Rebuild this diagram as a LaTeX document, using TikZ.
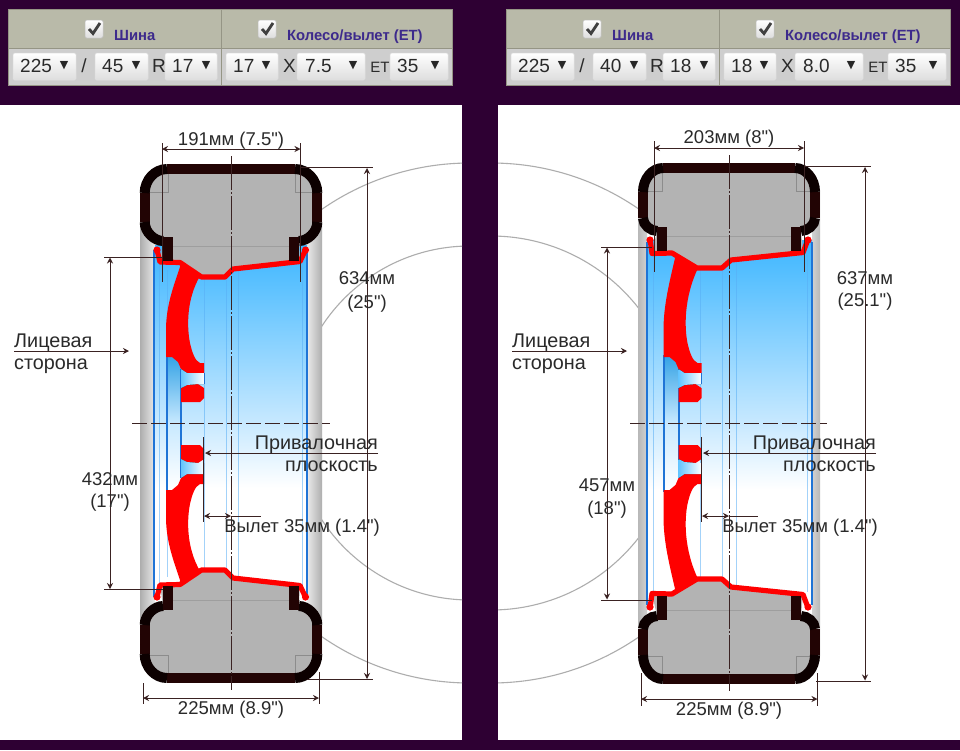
\documentclass[tikz,border=0pt]{standalone}
\usepackage{fontspec}
\newfontfamily\plainf{Liberation Sans}
\newfontfamily\symfont{DejaVu Sans}
\usetikzlibrary{arrows.meta}
\definecolor{bgp}{HTML}{2E0033}
\definecolor{dimc}{HTML}{3A2222}
\definecolor{txt}{HTML}{2A2A2A}
\definecolor{tyreA}{HTML}{0C0000}
\definecolor{tyreB}{HTML}{220404}
\definecolor{tyreG}{HTML}{B3B3B3}
\definecolor{hdr}{HTML}{B9BAA9}
\definecolor{rowc}{HTML}{CECECE}
\definecolor{brd}{HTML}{959585}
\definecolor{purp}{HTML}{3D2A8C}
\definecolor{blueD}{HTML}{1F74D6}
\definecolor{blueL}{HTML}{58AEF5}
\definecolor{wtop}{HTML}{3DB6FF}
\definecolor{wmid}{HTML}{C8E9FF}
\pgfdeclareverticalshading{wheelblue}{100bp}{color(0bp)=(white);color(41bp)=(white);color(50bp)=(wmid);color(75bp)=(wtop);color(100bp)=(wtop)}
\tikzset{
  x=1pt,y=-1pt,
  lbl/.style={font=\plainf\fontsize{18.5}{20}\selectfont,text=txt,inner sep=0pt,anchor=base},
  lblw/.style={font=\plainf\fontsize{19.8}{21}\selectfont,text=txt,inner sep=0pt},
  uit/.style={font=\plainf\fontsize{19}{20}\selectfont,text=txt,inner sep=0pt,anchor=base west},
  uih/.style={font=\plainf\fontsize{14.8}{16}\selectfont\bfseries,text=purp,inner sep=0pt,anchor=base west},
  dimline/.style={draw=dimc,line width=1pt},
  dimarrow/.style={dimline,{Stealth[length=6pt,width=6pt]}-{Stealth[length=6pt,width=6pt]}},
  arrowend/.style={dimline,-{Stealth[length=6pt,width=6pt]}},
  axisv/.style={draw=dimc,line width=1pt,dash pattern=on 34pt off 2pt on 2pt off 2pt},
  axish/.style={draw=dimc,line width=1pt,dash pattern=on 15pt off 4pt},
  arcline/.style={draw=black!32,line width=1.1pt},
  bluemain/.style={draw=blueD,line width=1.2pt},
  bluelight/.style={draw=blueL,opacity=.55,line width=1pt},
  tyrestroke/.style={line width=10pt,line cap=butt},
  corner/.style={draw=black!45,line width=.5pt},
  rimline/.style={draw=red,line width=5.2pt,line join=round,line cap=round},
  btn/.style={draw=black!12,line width=.5pt,rounded corners=1.5pt,top color=white,bottom color=black!13},
}
% quarter of a tyre: x, ytop, bar start, y of lower straight end, bead x, bead y, axis x
\newcommand\tyrequarter[7]{%
  \draw[tyrestroke,draw=tyreB] ({#3},{#2}) -- ({#7},{#2});
  \draw[tyrestroke,draw=tyreB] ({#1},{#2+24}) -- ({#1},{#4});
  \draw[tyrestroke,draw=tyreA] ({#1},{#2+24}) .. controls ({#1},{#2+11}) and ({#1+.45*(#3-#1)},{#2}) .. ({#3},{#2});
  \draw[tyrestroke,draw=tyreA] ({#1},{#4}) .. controls ({#1},{#4+.55*(#6-#4)}) and ({#5-.45*(#5-#1)},{#6}) .. ({#5},{#6});
  \fill[tyreB] ({#5},{#6-4}) rectangle ({#5+10},{#6+20});
}
% half wheel in the left picture
\newcommand\halfL{%
  \fill[tyreG] (167,169) -- (295,169) .. controls (307,169) and (317.3,180) .. (317.3,193) -- (317.3,222)
     .. controls (317.3,232.5) and (307.5,241) .. (299,241) -- (300,261.5) -- (233,269) -- (225,277) -- (201.5,277) -- (180,262.5) -- (160,263) -- (163,241)
     .. controls (154.7,241) and (144.7,232.5) .. (144.7,222) -- (144.7,193) .. controls (144.7,180) and (155,169) .. (167,169) -- cycle;
  \draw[corner] (140,192) -- (168,192) -- (168,165);
  \draw[corner] (322,192) -- (295,192) -- (295,165);
  \draw[draw=black!38,line width=.5pt] (163,246.5) -- (300,246.5);
  \draw[rimline] (157.5,252) -- (160,262) -- (180,262.5) -- (201.5,277) -- (225,277) -- (233,269) -- (300,261.5) -- (304.5,252);
  \fill[red] (157,250) circle (3.6);
  \fill[red] (305.5,250) circle (3.6);
  \tyrequarter{144.7}{169}{167}{222}{163}{241}{231}
  \begin{scope}[shift={(462,0)},xscale=-1]
    \tyrequarter{144.7}{169}{167}{222}{163}{241}{231}
  \end{scope}
}
% half wheel in the right picture
\newcommand\halfR{%
  \fill[tyreG] (663,168) -- (795,168) .. controls (805,168) and (815,180) .. (815,192) -- (815,218)
     .. controls (815,225) and (809,231) .. (801,231) -- (803,252.5) -- (731,260) -- (722,268) -- (697,268) -- (672,253) -- (652,253.5) -- (657,231)
     .. controls (649,231) and (643,225) .. (643,218) -- (643,192) .. controls (643,180) and (653,168) .. (663,168) -- cycle;
  \draw[corner] (638,191) -- (662,191) -- (662,163);
  \draw[corner] (820,191) -- (796,191) -- (796,163);
  \draw[draw=black!38,line width=.5pt] (657,236.5) -- (801,236.5);
  \draw[rimline] (650.5,242) -- (652,253.5) -- (672,253) -- (697,268) -- (722,268) -- (731,260) -- (803,252.5) -- (807,242);
  \fill[red] (650,240) circle (3.6);
  \fill[red] (808,240) circle (3.6);
  \tyrequarter{643}{168}{663}{218}{657}{231}{729}
  \begin{scope}[shift={(1458,0)},xscale=-1]
    \tyrequarter{643}{168}{663}{218}{657}{231}{729}
  \end{scope}
}
% spoke and hub: spoke-root left point, its control points, spoke-root right point (left picture frame)
\newcommand\spoke[4]{%
  \fill[red] #1 .. controls #2 and (166,305) .. (166,330) -- (166,357) -- (172,357) -- (178,362) -- (181,369)
     -- (187,373) -- (204,373) -- (204,363) -- (200,363) .. controls (195,361) and (192,352) .. (190,343) .. controls (187,328) and #3 .. #4 -- cycle;
  \fill[red] (181,388) -- (187,385) -- (198,384) -- (204,388) -- (204,398) -- (200,402) -- (181,402) -- cycle;
  \fill[left color=wtop!80,right color=white] (181,369) -- (187,373) -- (204,373) -- (204,384) -- (198,384) -- (187,385) -- (181,388) -- cycle;
}
% selector bar
\newcommand\uibar[7]{%
\begin{scope}[xshift=#1pt]
  \fill[hdr] (8.5,9) rectangle (452.5,48.5);
  \fill[rowc] (8.5,48.5) rectangle (452.5,85);
  \draw[brd,line width=1pt] (8.5,9) rectangle (452.5,85);
  \draw[brd,line width=1pt] (8.5,48.5) -- (452.5,48.5);
  \draw[brd,line width=1pt] (221.5,9) -- (221.5,85);
  \draw[btn,draw=black!25] (85,20) rectangle (103,38);
  \draw[btn,draw=black!25] (258,20) rectangle (276,38);
  \draw[line width=2.8pt,draw=black!75] (89,29) -- (93,33.5) -- (100,23);
  \draw[line width=2.8pt,draw=black!75] (262,29) -- (266,33.5) -- (273,23);
  \node[uih] (sh#1) at (114,40) {Шина};
  \node[uih] (wh#1) at (287,40) {Колесо/вылет (ET)};
  \draw[btn] (13,53) rectangle (76,80);
  \draw[btn] (95,53) rectangle (148,80);
  \draw[btn] (165,53) rectangle (217,80);
  \draw[btn] (226,53) rectangle (278,80);
  \draw[btn] (297,53) rectangle (365,80);
  \draw[btn] (390,53) rectangle (448,80);
  \node[uit] (a#1) at (20,72.5) {#2};
  \node[uit] (b#1) at (102,72.5) {#3};
  \node[uit] (c#1) at (172,72.5) {#4};
  \node[uit] (d#1) at (233,72.5) {#5};
  \node[uit] (e#1) at (305,72.5) {#6};
  \node[uit] (f#1) at (397,72.5) {#7};
  \foreach \t/\xx in {1/64,2/136,3/206,4/266,5/353,6/435}
    \node[text=black!85,inner sep=0pt,font=\symfont\fontsize{11}{12}\selectfont] (t\t#1) at (\xx,66) {▼};
  \node[uit,anchor=base] (sl#1) at (84,72.5) {/};
  \node[uit,anchor=base] (rr#1) at (159,72.5) {R};
  \node[uit,anchor=base] (xx#1) at (289.5,72.5) {X};
  \node[uit,anchor=base,font=\plainf\fontsize{15}{17}\selectfont] (et#1) at (380,72.5) {ET};
\end{scope}
}
\begin{document}
\begin{tikzpicture}
\useasboundingbox (0,0) rectangle (960,750);
\fill[bgp] (0,0) rectangle (960,750);
\fill[white] (0,105) rectangle (462,740);
\fill[white] (498,105) rectangle (960,740);
% side-view arcs
\begin{scope}
  \clip (322,105) rectangle (462,740);
  \draw[arcline] (470,423) circle (260);
  \draw[arcline] (470,423) circle (177);
\end{scope}
\begin{scope}
  \clip (498,105) rectangle (638,740);
  \draw[arcline] (491,423) circle (260);
  \draw[arcline] (491,423) circle (187);
\end{scope}
\uibar{0}{225}{45}{17}{17}{7.5}{35}
\uibar{498}{225}{40}{18}{18}{8.0}{35}
% ---------------- left wheel
\fill[left color=black!32,right color=black!8] (140,190) rectangle (155,655);
\fill[left color=black!8,right color=black!32] (307,190) rectangle (322,655);
\shade[shading=wheelblue] (155,245) rectangle (307,602);
\shade[top color=wtop!90!black,bottom color=wmid] (167,357) rectangle (181,423);
\foreach \xx in {159,226,238,302} \draw[bluelight] (\xx,262) -- (\xx,585);
\foreach \xx in {167,181,204} \draw[bluelight] (\xx,270) -- (\xx,577);
\draw[bluemain] (154,250) -- (154,597);
\draw[bluemain] (307,250) -- (307,597);
\draw[bluemain] (167,355) -- (167,492);
\draw[bluemain] (181,369) -- (181,478);
\spoke{(181,264)}{(174,285)}{(186,300)}{(200,276)}
\begin{scope}[shift={(0,847)},yscale=-1]
  \spoke{(181,264)}{(174,285)}{(186,300)}{(200,276)}
\end{scope}
\draw[draw=blueD,line width=.8pt] (204,373) -- (204,384);
\halfL
\begin{scope}[shift={(0,847)},yscale=-1]
  \halfL
\end{scope}
% ---------------- right wheel
\fill[left color=black!28,right color=black!18] (638,190) rectangle (647,655);
\fill[left color=black!18,right color=black!28] (812,190) rectangle (820,655);
\shade[shading=wheelblue] (647,240) rectangle (812,607);
\shade[top color=wtop!90!black,bottom color=wmid] (664,357) rectangle (679,423);
\foreach \xx in {653,700,722,736,807} \draw[bluelight] (\xx,255) -- (\xx,592);
\draw[bluemain] (647,242) -- (647,605);
\draw[bluemain] (812,242) -- (812,605);
\draw[bluemain] (664,355) -- (664,492);
\draw[bluemain] (679,369) -- (679,478);
\begin{scope}[xshift=497.5pt]
  \spoke{(178,256)}{(172,282)}{(186,298)}{(201,267)}
\end{scope}
\begin{scope}[shift={(497.5,847)},yscale=-1]
  \spoke{(178,256)}{(172,282)}{(186,298)}{(201,267)}
\end{scope}
\draw[draw=blueD,line width=.8pt] (701.5,373) -- (701.5,384);
\halfR
\begin{scope}[shift={(0,847)},yscale=-1]
  \halfR
\end{scope}
% ---------------- dimension lines, left
\coordinate (La) at (162,149); \coordinate (Lb) at (300.5,149);
\draw[dimarrow] (La) -- (Lb);
\draw[dimline] (162,143) -- (162,282);
\draw[dimline] (300.5,143) -- (300.5,282);
\draw[axisv] (231,156) -- (231,690);
\draw[axish] (132,423) -- (330,423);
\coordinate (Lc) at (143,698); \coordinate (Ld) at (319,698);
\draw[dimarrow] (Lc) -- (Ld);
\draw[dimline] (143,683) -- (143,704);
\draw[dimline] (319,672) -- (319,704);
\coordinate (Le) at (367,168); \coordinate (Lf) at (367,679);
\draw[dimarrow] (Le) -- (Lf);
\draw[dimline] (300,167.5) -- (373,167.5);
\draw[dimline] (307,679.5) -- (373,679.5);
\coordinate (Lg) at (110,257.5); \coordinate (Lh) at (110,589);
\draw[dimarrow] (Lg) -- (Lh);
\draw[dimline] (104,257) -- (163,257);
\draw[dimline] (104,589.5) -- (163,589.5);
\coordinate (Li) at (14,351); \coordinate (Lj) at (129,351);
\draw[arrowend] (Li) -- (Lj);
\draw[dimline] (203.7,437) -- (203.7,522);
\coordinate (Lk) at (378,453); \coordinate (Ll) at (205,453);
\draw[arrowend] (Lk) -- (Ll);
\coordinate (Lm) at (204,516); \coordinate (Ln) at (231,516); \coordinate (Lo) at (261,516);
\draw[dimarrow] (Lm) -- (Ln);
\draw[dimline] (Ln) -- (Lo);
% ---------------- dimension lines, right
\coordinate (Ra) at (654,148); \coordinate (Rb) at (804,148);
\draw[dimarrow] (Ra) -- (Rb);
\draw[dimline] (654,141) -- (654,272);
\draw[dimline] (804,141) -- (804,272);
\draw[axisv] (729,155) -- (729,691);
\draw[axish] (630,423) -- (827,423);
\coordinate (Rc) at (641,699); \coordinate (Rd) at (817.5,699);
\draw[dimarrow] (Rc) -- (Rd);
\draw[dimline] (641,673) -- (641,706);
\draw[dimline] (817.5,673) -- (817.5,706);
\coordinate (Re) at (865,167); \coordinate (Rf) at (865,680.5);
\draw[dimarrow] (Re) -- (Rf);
\draw[dimline] (804,166.5) -- (871,166.5);
\draw[dimline] (816,681) -- (871,681);
\coordinate (Rg) at (607,247.5); \coordinate (Rh) at (607,599.5);
\draw[dimarrow] (Rg) -- (Rh);
\draw[dimline] (601,247) -- (652,247);
\draw[dimline] (601,600) -- (652,600);
\coordinate (Ri) at (512,351); \coordinate (Rj) at (627,351);
\draw[arrowend] (Ri) -- (Rj);
\draw[dimline] (701.7,437) -- (701.7,522);
\coordinate (Rk) at (876,453); \coordinate (Rl) at (703,453);
\draw[arrowend] (Rk) -- (Rl);
\coordinate (Rm) at (702,516); \coordinate (Rn) at (729,516); \coordinate (Ro) at (758,516);
\draw[dimarrow] (Rm) -- (Rn);
\draw[dimline] (Rn) -- (Ro);
% ---------------- labels
\node[lbl] (t1) at (231,145) {191мм (7.5")};
\node[lbl] (t2) at (231,714) {225мм (8.9")};
\node[lbl] (t3) at (367,284) {634мм};
\node[lbl] (t4) at (367,308) {(25")};
\node[lbl] (t5) at (110,485) {432мм};
\node[lbl] (t6) at (110,507) {(17")};
\node[lblw,anchor=base west] (t7) at (14,347) {Лицевая};
\node[lblw,anchor=base west] (t8) at (14,369) {сторона};
\node[lblw,anchor=base east] (t9) at (378,449) {Привалочная};
\node[lblw,anchor=base east] (t10) at (378,471) {плоскость};
\node[lbl,anchor=base east] (t11) at (380,532) {Вылет 35мм (1.4")};
\node[lbl] (r1) at (729,143) {203мм (8")};
\node[lbl] (r2) at (729,715) {225мм (8.9")};
\node[lbl] (r3) at (865,284) {637мм};
\node[lbl] (r4) at (865,306) {(25.1")};
\node[lbl] (r5) at (607,491) {457мм};
\node[lbl] (r6) at (607,514) {(18")};
\node[lblw,anchor=base west] (r7) at (512,347) {Лицевая};
\node[lblw,anchor=base west] (r8) at (512,369) {сторона};
\node[lblw,anchor=base east] (r9) at (876,449) {Привалочная};
\node[lblw,anchor=base east] (r10) at (876,471) {плоскость};
\node[lbl,anchor=base east] (r11) at (878,532) {Вылет 35мм (1.4")};
\end{tikzpicture}
\end{document}
